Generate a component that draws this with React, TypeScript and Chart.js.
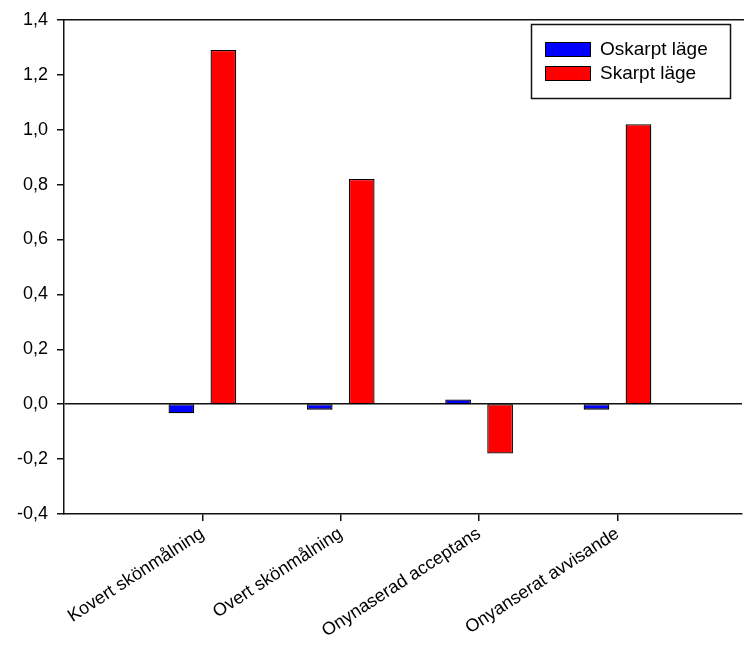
import React, { useEffect, useRef } from 'react';
import { Chart, registerables } from 'chart.js';

Chart.register(...registerables);

const categories = ['Kovert skönmålning', 'Overt skönmålning', 'Onynaserad acceptans', 'Onyanserat avvisande'];
const categoryPositions = [1, 2, 3, 4];
const oskarptValues = [-0.033, -0.02, 0.017, -0.02];
const skarptValues = [1.29, 0.82, -0.18, 1.02];
const seriesNames = ['Oskarpt läge', 'Skarpt läge'];
const seriesColors = ['#0000FF', '#FF0000'];
const yMin = -0.4;
const yMax = 1.4;
const yStep = 0.2;

const FONT = '"Liberation Sans", Arial, Helvetica, sans-serif';

const frameAndLegend = {
  id: 'frameAndLegend',
  afterDraw(chart: any) {
    const ctx = chart.ctx;
    const ca = chart.chartArea;
    ctx.save();
    ctx.strokeStyle = '#111';
    ctx.lineWidth = 1.5;
    ctx.beginPath();
    ctx.moveTo(ca.left, ca.top);
    ctx.lineTo(chart.width, ca.top);
    ctx.stroke();
    const bx = 531.5, by = 24.5, bw = 199, bh = 74;
    ctx.fillStyle = '#fff';
    ctx.fillRect(bx, by, bw, bh);
    ctx.strokeStyle = '#111';
    ctx.lineWidth = 1.5;
    ctx.strokeRect(bx, by, bw, bh);
    ctx.font = '19px ' + FONT;
    ctx.textBaseline = 'middle';
    ctx.textAlign = 'left';
    chart.data.datasets.forEach((ds: any, i: number) => {
      const sy = 42 + i * 24;
      ctx.fillStyle = ds.backgroundColor;
      ctx.fillRect(545, sy, 45, 14);
      ctx.strokeStyle = '#000';
      ctx.lineWidth = 1;
      ctx.strokeRect(545.5, sy + 0.5, 45, 14);
      ctx.fillStyle = '#000';
      ctx.fillText(ds.label, 600, sy + 8);
    });
    ctx.restore();
  },
};

export default function App() {
  const ref = useRef<HTMLCanvasElement>(null);
  useEffect(() => {
    document.body.style.margin = '0';
    const canvas = ref.current!;
    const mk = (label: string, vals: number[], color: string) => ({
      label,
      data: categoryPositions.map((x, i) => ({ x, y: vals[i] })),
      backgroundColor: color,
      borderColor: '#000',
      borderWidth: 1.3,
      borderSkipped: false,
      categoryPercentage: 0.607,
      barPercentage: 0.612,
    });
    const chart = new Chart(canvas, {
      type: 'bar',
      data: {
        datasets: [
          mk(seriesNames[0], oskarptValues, seriesColors[0]),
          mk(seriesNames[1], skarptValues, seriesColors[1]),
        ] as any,
      },
      options: {
        animation: false,
        responsive: false,
        layout: { padding: { top: 17, right: 2, left: 0, bottom: 0 } },
        plugins: { legend: { display: false }, tooltip: { enabled: false } },
        scales: {
          x: {
            type: 'linear',
            min: 0,
            max: 4.9,
            offset: false,
            afterBuildTicks: (scale: any) => {
              scale.ticks = categoryPositions.map((v) => ({ value: v }));
            },
            afterFit: (scale: any) => {
              scale.height = 136;
            },
            border: { display: true, color: '#111', width: 1.5 },
            grid: { offset: false, drawOnChartArea: false, tickLength: 7, tickColor: '#111', lineWidth: 1.5 },
            ticks: {
              autoSkip: false,
              minRotation: 33,
              maxRotation: 33,
              padding: 2,
              color: '#000',
              font: { family: FONT, size: 18 },
              callback: (v: any) => categories[Math.round(Number(v)) - 1] ?? '',
            },
          },
          y: {
            min: yMin,
            max: yMax,
            afterFit: (scale: any) => {
              scale.width = 64;
            },
            border: { display: true, color: '#111', width: 1.5 },
            grid: {
              color: (c: any) => (Math.abs(c.tick?.value ?? 1) < 1e-9 ? '#111' : 'transparent'),
              tickColor: '#111',
              tickLength: 7,
              lineWidth: 1.5,
            },
            ticks: {
              stepSize: yStep,
              padding: 9,
              color: '#000',
              font: { family: FONT, size: 18 },
              callback: (v: any) => {
                const n = Math.abs(Number(v)) < 1e-9 ? 0 : Number(v);
                return n.toFixed(1).replace('.', ',');
              },
            },
          },
        },
      } as any,
      plugins: [frameAndLegend],
    });
    return () => chart.destroy();
  }, []);
  return (
    <div style={{ width: 744, height: 650, background: '#fff' }}>
      <canvas ref={ref} width={744} height={650} style={{ display: 'block' }} />
    </div>
  );
}
